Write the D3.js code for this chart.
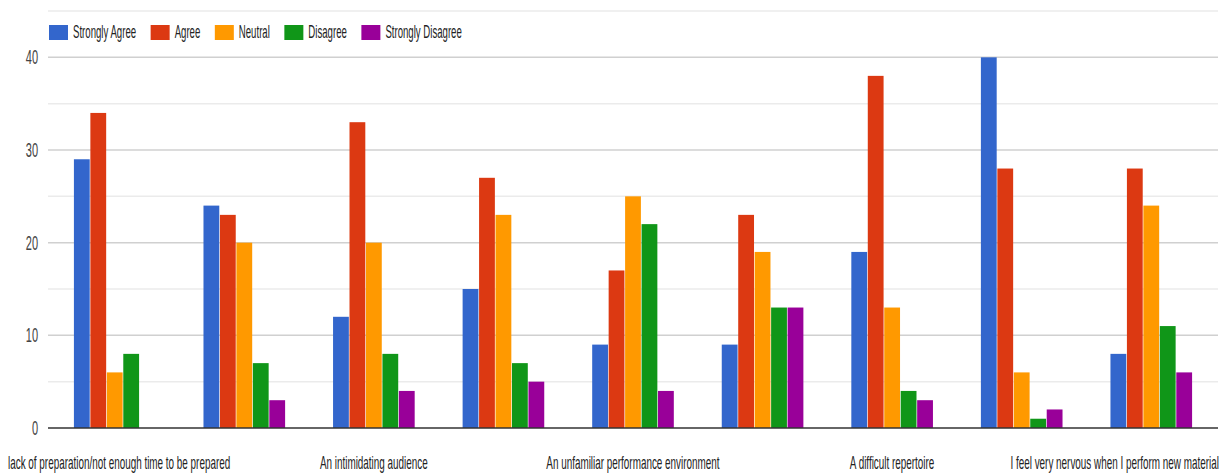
<!DOCTYPE html>
<html lang="en">
<head>
<meta charset="utf-8">
<title>Performance anxiety survey</title>
<script src="https://d3js.org/d3.v7.min.js"></script>
<style>
  body { margin: 0; background: #fff; }
  text { font-family: "Liberation Sans", Arial, sans-serif; fill: #222; }
</style>
</head>
<body>
<script>
// survey answers, one array per answer option
var categories = ["c1", "c2", "c3", "c4", "c5", "c6", "c7", "c8", "c9"];
var tickLabels = [
  "lack of preparation/not enough time to be prepared", "",
  "An intimidating audience", "",
  "An unfamiliar performance environment", "",
  "A difficult repertoire", "",
  "I feel very nervous when I perform new material"
];
var seriesNames = ["Strongly Agree", "Agree", "Neutral", "Disagree", "Strongly Disagree"];
var stronglyAgree    = [29, 24, 12, 15,  9,  9, 19, 40,  8];
var agree            = [34, 23, 33, 27, 17, 23, 38, 28, 28];
var neutral          = [ 6, 20, 20, 23, 25, 19, 13,  6, 24];
var disagree         = [ 8,  7,  8,  7, 22, 13,  4,  1, 11];
var stronglyDisagree = [ 0,  3,  4,  5,  4, 13,  3,  2,  6];
var yTicks = [0, 10, 20, 30, 40];

var colors = ["#3366cc", "#dc3912", "#ff9900", "#109618", "#990099"];
var allSeries = [stronglyAgree, agree, neutral, disagree, stronglyDisagree];

var W = 1228, H = 474;
var plotL = 48, plotR = 1218, plotT = 11, plotB = 428;
var sx = 0.55; // text in the picture is narrow

var svg = d3.select("body").append("svg")
  .attr("width", W).attr("height", H);

var x0 = d3.scaleBand().domain(categories).range([plotL, plotR])
  .paddingInner(0.37).paddingOuter(0.2);
var x1 = d3.scaleBand().domain(seriesNames).range([0, x0.bandwidth()])
  .paddingInner(0.04);
var y = d3.scaleLinear().domain([0, 45]).range([plotB, plotT]);

// minor gridlines every 5
svg.append("g").selectAll("line")
  .data(d3.range(5, 50, 10))
  .enter().append("line")
  .attr("x1", plotL).attr("x2", plotR)
  .attr("y1", function(d) { return y(d); })
  .attr("y2", function(d) { return y(d); })
  .attr("stroke", "#ebebeb").attr("stroke-width", 1.5);

// major gridlines + tick labels
var yAxis = svg.append("g");
yAxis.selectAll("line")
  .data(yTicks.slice(1))
  .enter().append("line")
  .attr("x1", plotL).attr("x2", plotR)
  .attr("y1", function(d) { return y(d); })
  .attr("y2", function(d) { return y(d); })
  .attr("stroke", "#d0d0d0").attr("stroke-width", 1.5);
yAxis.selectAll("text")
  .data(yTicks)
  .enter().append("text")
  .attr("transform", function(d) { return "translate(38," + (y(d) + 7) + ") scale(" + sx + ",1)"; })
  .attr("text-anchor", "end")
  .attr("font-size", "20px")
  .style("fill", "#444")
  .text(function(d) { return d; });

// bars
var rows = categories.map(function(c, i) {
  return { cat: c, vals: seriesNames.map(function(s, j) { return { s: s, j: j, v: allSeries[j][i] }; }) };
});
svg.append("g").selectAll("g")
  .data(rows)
  .enter().append("g")
  .attr("transform", function(d) { return "translate(" + x0(d.cat) + ",0)"; })
  .selectAll("rect")
  .data(function(d) { return d.vals.filter(function(e) { return e.v > 0; }); })
  .enter().append("rect")
  .attr("x", function(d) { return x1(d.s); })
  .attr("width", x1.bandwidth())
  .attr("y", function(d) { return y(d.v); })
  .attr("height", function(d) { return y(0) - y(d.v); })
  .attr("fill", function(d) { return colors[d.j]; });

// baseline
svg.append("line")
  .attr("x1", plotL).attr("x2", plotR)
  .attr("y1", y(0)).attr("y2", y(0))
  .attr("stroke", "#333").attr("stroke-width", 1.5);

// category labels, kept inside the chart
var xl = svg.append("g");
tickLabels.forEach(function(t, i) {
  if (!t) return;
  var cx = x0(categories[i]) + x0.bandwidth() / 2;
  var txt = xl.append("text")
    .attr("font-size", "18px")
    .style("fill", "#222")
    .text(t);
  var w = txt.node().getComputedTextLength() * sx;
  var xs = cx - w / 2;
  if (xs < 8) xs = 8;
  if (xs + w > 1219) xs = 1219 - w;
  txt.attr("transform", "translate(" + xs + ",469) scale(" + sx + ",1)");
});

// legend
var lg = svg.append("g");
var lx = 49;
seriesNames.forEach(function(s, j) {
  lg.append("rect")
    .attr("x", lx).attr("y", 25)
    .attr("width", 19).attr("height", 15)
    .attr("fill", colors[j]);
  var t = lg.append("text")
    .attr("font-size", "17.5px")
    .style("fill", "#222")
    .text(s);
  var w = t.node().getComputedTextLength() * sx;
  t.attr("transform", "translate(" + (lx + 24) + ",38) scale(" + sx + ",1)");
  lx += 24 + w + 14.5;
});
</script>
</body>
</html>
